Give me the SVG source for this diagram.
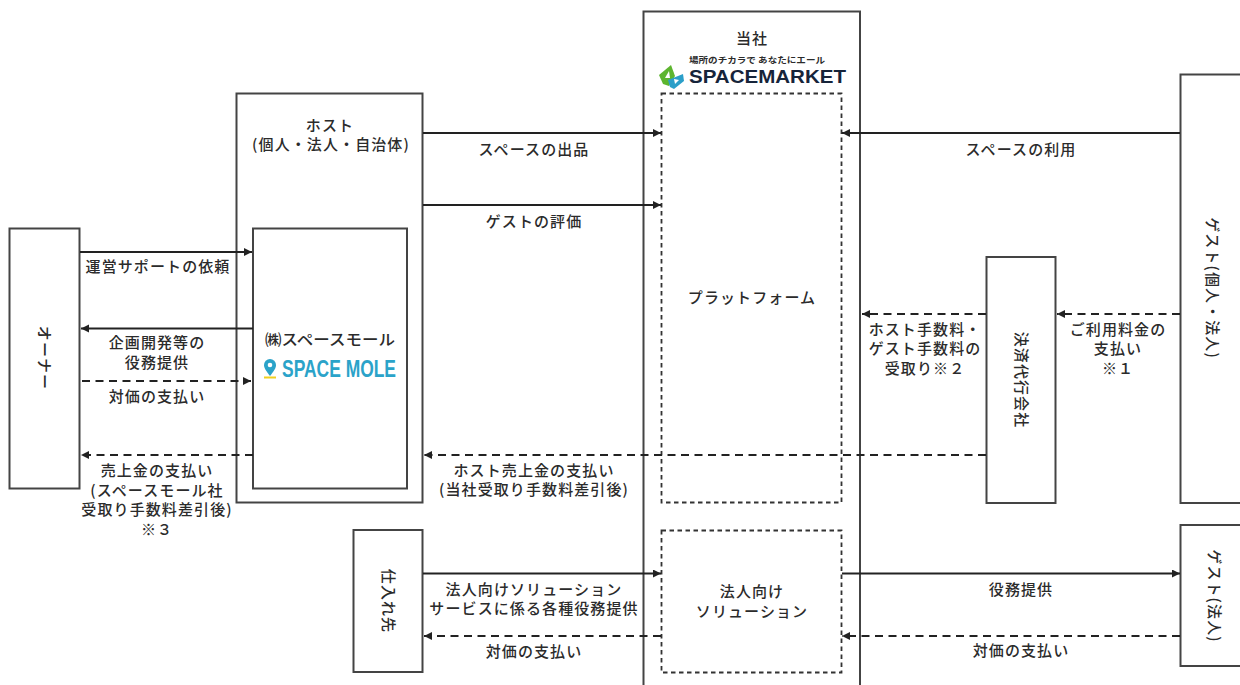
<svg xmlns="http://www.w3.org/2000/svg" width="1240" height="685" viewBox="0 0 1240 685">
<style>
text{font-family:"Noto Sans CJK JP","Liberation Sans",sans-serif;font-size:15px;letter-spacing:1.1px;font-weight:500;fill:#2b2b2b;text-anchor:middle}
.box{fill:#fff;stroke:#444;stroke-width:2}
.dash{fill:none;stroke:#333;stroke-width:1.8;stroke-dasharray:4.5 3.5}
.s{stroke:#222;stroke-width:2.2;fill:none;marker-end:url(#a)}
.d{stroke:#222;stroke-width:2;fill:none;stroke-dasharray:8 5.5;marker-end:url(#a)}
</style>
<defs><marker id="a" markerUnits="userSpaceOnUse" markerWidth="10" markerHeight="10" refX="8" refY="4" orient="auto"><path d="M0 0L8 4L0 8Z" fill="#222"/></marker></defs>
<rect width="1240" height="685" fill="#fff"/>
<g id="host"><rect class="box" x="236.500" y="93.500" width="186" height="409"/><text x="330" y="131">ホスト</text><text x="331" y="150">(個人・法人・自治体)</text></g>
<g id="company"><path class="box" d="M643.500 690V11.500H860V690"/><text x="752" y="44">当社</text>
<text x="757" y="63" textLength="136" lengthAdjust="spacingAndGlyphs" style="font-size:8.500px;font-weight:700;letter-spacing:0">場所のチカラで あなたにエール</text>
<path d="M659 75L671 65L675 76L669 86L663 84Z" fill="#5db52f"/><path d="M668 80L683 74L684 81L674 89L670 87Z" fill="#2b9fc9"/><path d="M669 71L670 78L665 78Z" fill="#fff"/><path d="M674 79L679 80L675 84Z" fill="#fff"/>
<text x="767.500" y="83" textLength="157" lengthAdjust="spacingAndGlyphs" style="font-family:'Liberation Sans',sans-serif;font-size:19px;font-weight:700;fill:#16243a;letter-spacing:0">SPACEMARKET</text></g>
<g id="platform"><rect class="dash" x="661.500" y="93.500" width="180" height="409"/><text x="752" y="303">プラットフォーム</text></g>
<g id="solution"><rect class="dash" x="661.500" y="530.500" width="180" height="142"/><text x="752" y="597">法人向け</text><text x="752" y="617">ソリューション</text></g>
<g id="owner"><rect class="box" x="9.500" y="228.500" width="70" height="260"/><text transform="translate(44 358) rotate(90)" y="5">オーナー</text></g>
<g id="mole"><rect class="box" x="253" y="228.500" width="154" height="260"/><text x="330" y="345" textLength="130" lengthAdjust="spacingAndGlyphs" style="letter-spacing:0">㈱スペースモール</text>
<path d="M270 376C266 371 264 368 264 365A6 6 0 0 1 276 365C276 368 274 371 270 376Z" fill="#2ba3c9"/><circle cx="270" cy="365" r="2.300" fill="#fff"/><rect x="264" y="376.500" width="12" height="2" fill="#f0d020"/>
<text x="339" y="377" textLength="114" lengthAdjust="spacingAndGlyphs" style="font-family:'Liberation Sans',sans-serif;font-size:24px;font-weight:700;fill:#2ba3c9;letter-spacing:0">SPACE MOLE</text></g>
<g id="payment"><rect class="box" x="986.500" y="257" width="69" height="246"/><text transform="translate(1021 380) rotate(90)" y="5">決済代行会社</text></g>
<g id="guest-individual"><path class="box" d="M1245 74.500H1180.500V503H1245"/><text transform="translate(1212 288) rotate(90)" y="5">ゲスト(個人・法人)</text></g>
<g id="supplier"><rect class="box" x="353.500" y="530" width="69" height="142"/><text transform="translate(388 601) rotate(90)" y="5">仕入れ先</text></g>
<g id="guest-corp"><path class="box" d="M1245 525H1180.500V666H1245"/><text transform="translate(1214 596) rotate(90)" y="5">ゲスト(法人)</text></g>
<g id="connectors">
<path class="s" d="M423 133H661"/><path class="s" d="M1180 133H842"/><path class="s" d="M423 205H661"/>
<path class="s" d="M80 252H252"/><path class="s" d="M253 328.500H81"/><path class="d" d="M82 381H251"/><path class="d" d="M253 455H81"/>
<path class="d" d="M986 455H424"/><path class="d" d="M986 314H862"/><path class="d" d="M1180 314H1057"/>
<path class="s" d="M423 573.500H661"/><path class="d" d="M661 636H424"/><path class="s" d="M842 573.500H1180"/><path class="d" d="M1180 636H842"/>
</g>
<g id="labels">
<text x="534" y="155">スペースの出品</text><text x="1021" y="155">スペースの利用</text><text x="534" y="227">ゲストの評価</text>
<text x="158" y="272">運営サポートの依頼</text><text x="157" y="348">企画開発等の</text><text x="157" y="368">役務提供</text><text x="157" y="402">対価の支払い</text>
<text x="157" y="476">売上金の支払い</text><text x="157" y="496">(スペースモール社</text><text x="157" y="515">受取り手数料差引後)</text><text x="157" y="535">※３</text>
<text x="534" y="476">ホスト売上金の支払い</text><text x="534" y="495">(当社受取り手数料差引後)</text>
<text x="925" y="335">ホスト手数料・</text><text x="925" y="354">ゲスト手数料の</text><text x="925" y="374">受取り※２</text>
<text x="1118" y="335">ご利用料金の</text><text x="1118" y="354">支払い</text><text x="1118" y="374">※１</text>
<text x="534" y="595">法人向けソリューション</text><text x="534" y="614">サービスに係る各種役務提供</text><text x="534" y="657">対価の支払い</text>
<text x="1021" y="595">役務提供</text><text x="1021" y="656">対価の支払い</text>
</g>
</svg>
